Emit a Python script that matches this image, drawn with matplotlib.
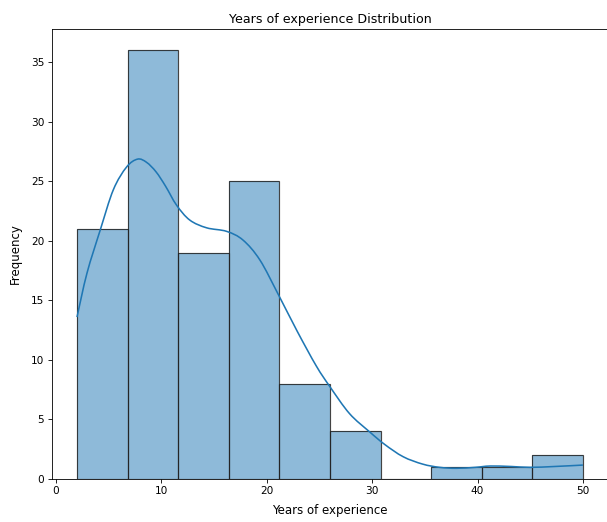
import numpy as np
import matplotlib.pyplot as plt
from matplotlib.path import Path
from matplotlib.patches import PathPatch

# histogram of years of experience (10 bins from 2 to 50)
bin_edges = [2.0, 6.8, 11.6, 16.4, 21.2, 26.0, 30.8, 35.6, 40.4, 45.2, 50.0]
counts = [21, 36, 19, 25, 8, 4, 0, 1, 1, 2]

# kde curve scaled to counts
kde_x = [2.0, 2.95, 4.2, 5.45, 6.7, 7.75, 8.6, 9.5, 10.4, 11.45, 12.7, 14.3, 16.2, 17.75,
         19.35, 21.1, 22.9, 24.7, 26.0, 27.85, 29.75, 31.2, 32.95, 34.8, 36.4, 38.0,
         39.8, 41.2, 43.2, 45.0, 47.3, 50.0]
kde_y = [13.6, 17.3, 20.9, 24.3, 26.2, 26.87, 26.6, 25.8, 24.6, 23.0, 21.75, 21.1, 20.8, 20.07,
         18.4, 15.5, 12.4, 9.5, 7.75, 5.5, 3.97, 2.9, 1.87, 1.25, 0.98, 0.9,
         0.98, 1.09, 1.05, 0.98, 1.05, 1.17]

blue = "#1f77b4"


def smooth_path(xs, ys):
    # catmull-rom through the points, drawn as cubic bezier segments
    pts = np.column_stack([xs, ys])
    verts = [pts[0]]
    codes = [Path.MOVETO]
    for i in range(len(pts) - 1):
        p0 = pts[max(i - 1, 0)]
        p1 = pts[i]
        p2 = pts[i + 1]
        p3 = pts[min(i + 2, len(pts) - 1)]
        verts += [p1 + (p2 - p0) / 6, p2 - (p3 - p1) / 6, p2]
        codes += [Path.CURVE4] * 3
    return Path(verts, codes)


fig = plt.figure(figsize=(607 / 76, 522 / 76), dpi=76)
ax = fig.add_axes([51.7 / 607, 43 / 522, 556.5 / 607, 450 / 522])

edges = np.array(bin_edges)
ax.bar(edges[:-1], counts, width=np.diff(edges), align="edge",
       facecolor=blue, alpha=0.5, edgecolor="none")
ax.bar(edges[:-1], counts, width=np.diff(edges), align="edge",
       facecolor="none", edgecolor="#222222", linewidth=1.1, alpha=0.85)
ax.add_patch(PathPatch(smooth_path(kde_x, kde_y), facecolor="none",
                       edgecolor=blue, linewidth=1.5))

ax.set_xlim(-0.4, 52.4)
ax.set_ylim(0, 37.8)
ax.set_title("Years of experience Distribution", fontsize=12)
ax.set_xlabel("Years of experience", fontsize=11.2, labelpad=7)
ax.set_ylabel("Frequency", fontsize=11.2, labelpad=8)

plt.savefig("out.png", dpi=76)
